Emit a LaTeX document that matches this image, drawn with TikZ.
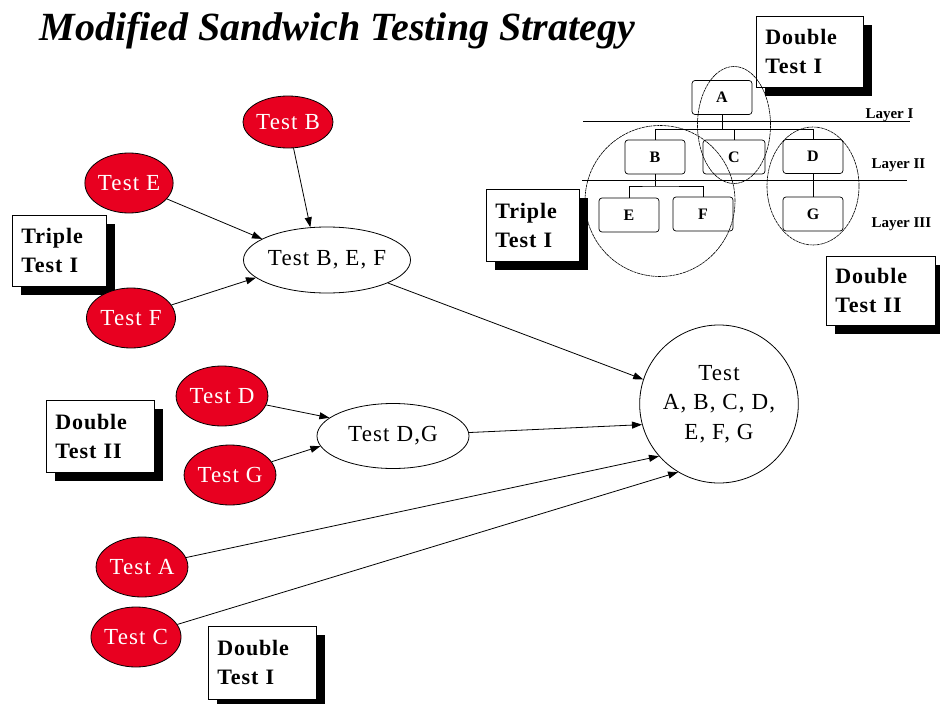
\documentclass[tikz,border=0pt]{standalone}
\usepackage{fontspec}
\setmainfont{Liberation Serif}
\newfontfamily\spacedfont[LetterSpace=5]{Liberation Serif}
\newfontfamily\boxfontfam[LetterSpace=4]{Liberation Serif}
\usetikzlibrary{shapes.geometric,shadows,arrows.meta,calc}
\definecolor{tred}{RGB}{232,0,32}
\begin{document}
\begin{tikzpicture}[x=1pt,y=-1pt,
  redn/.style={ellipse, draw=black, line width=0.8pt, fill=tred, text=white,
    font=\spacedfont\fontsize{23}{26}\selectfont, inner sep=0pt},
  whiten/.style={ellipse, draw=black, line width=0.8pt, fill=white,
    font=\spacedfont\fontsize{23}{26}\selectfont, inner sep=0pt},
  labbox/.style={rectangle, draw=black, line width=0.8pt, fill=white, align=left,
    font=\boxfontfam\bfseries\fontsize{22}{29}\selectfont, inner xsep=9pt, inner ysep=0pt, anchor=north west,
    drop shadow={shadow xshift=9pt, shadow yshift=-9pt, fill=black, opacity=1}},
  tbox/.style={rectangle, rounded corners=3pt, draw=black, line width=0.7pt, fill=white,
    font=\bfseries\fontsize{16}{18}\selectfont, minimum width=60pt, minimum height=34pt, inner sep=0pt},
  grp/.style={ellipse, draw=black, line width=0.6pt, dash pattern=on 3pt off 0.6pt, inner sep=0pt},
  layer/.style={font=\bfseries\fontsize{15}{17}\selectfont, anchor=base west},
  arr/.style={-{Triangle[length=10pt,width=7pt]}, line width=0.8pt},
  tree/.style={line width=0.7pt}
]
\useasboundingbox (0,0) rectangle (940,704);

% title
\node[font=\bfseries\itshape\fontsize{40}{43}\selectfont, anchor=base west] (title) at (36,40) {Modified Sandwich Testing Strategy};

% label boxes
\node[labbox, minimum width=94pt, minimum height=71pt, text width=76pt] (tripL) at (12,215) {Triple\\Test I};
\node[labbox, minimum width=108pt, minimum height=72pt, text width=90pt] (dblIIL) at (46,400) {Double\\Test II};
\node[labbox, minimum width=108pt, minimum height=73pt, text width=90pt] (dblIB) at (208,626) {Double\\Test I};
\node[labbox, minimum width=107pt, minimum height=71pt, text width=89pt] (dblIT) at (756,16) {Double\\Test I};
\node[labbox, minimum width=93pt, minimum height=72pt, text width=75pt] (tripR) at (486,189) {Triple\\Test I};
\node[labbox, minimum width=109pt, minimum height=69pt, text width=91pt] (dblIIR) at (826,256) {Double\\Test II};

% red nodes
\node[redn, minimum width=89pt, minimum height=52pt] (tB) at (288,122) {Test B};
\node[redn, minimum width=88pt, minimum height=60pt] (tE) at (129,183) {Test E};
\node[redn, minimum width=89pt, minimum height=60pt] (tF) at (131,318) {Test F};
\node[redn, minimum width=90pt, minimum height=60pt] (tD) at (222,396) {Test D};
\node[redn, minimum width=90pt, minimum height=60pt] (tG) at (230,475) {Test G};
\node[redn, minimum width=89pt, minimum height=60pt] (tA) at (142,567) {Test A};
\node[redn, minimum width=90pt, minimum height=60pt] (tC) at (136,637) {Test C};

% white nodes
\node[whiten, minimum width=154pt, minimum height=66pt] (bef) at (327,260) {Test B, E, F};
\node[whiten, minimum width=152pt, minimum height=65pt] (dg) at (393,436) {Test D,G};
\node[whiten, minimum width=154pt, minimum height=158pt, align=center,
  font=\spacedfont\fontsize{23}{29.5}\selectfont] (all) at (719,404) {Test\\A, B, C, D,\\E, F, G};

% arrows
\draw[arr] (tB) -- (bef.117);
\draw[arr] (tE) -- (bef.162);
\draw[arr] (tF) -- (bef.194);
\draw[arr] (tD) -- (dg.164);
\draw[arr] (tG) -- (dg.188);
\draw[arr] (bef) -- (all.162);
\draw[arr] (dg) -- (all.195);
\draw[arr] (tA) -- (all.221);
\draw[arr] (tC) -- (all.239);

% layer lines
\coordinate (l1a) at (583,121); \coordinate (l1b) at (910,121);
\coordinate (l2a) at (582,180); \coordinate (l2b) at (907,180);
\draw[line width=0.7pt] (l1a) -- (l1b);
\draw[line width=0.7pt] (l2a) -- (l2b);
\node[layer] (lay1) at (862,118) {Layer I};
\node[layer] (lay2) at (868,168) {Layer II};
\node[layer] (lay3) at (868,227) {Layer III};

% tree boxes
\node[tbox] (A) at (722,97.5) {A};
\node[tbox] (B) at (655,157) {B};
\node[tbox, minimum width=62pt] (C) at (734,157) {C};
\node[tbox] (D) at (813,156.5) {D};
\node[tbox] (E) at (629,215) {E};
\node[tbox] (F) at (703,214) {F};
\node[tbox] (G) at (813,214) {G};

% tree lines
\coordinate (hA) at (722,129.5);
\coordinate (hB) at (655,186);
\draw[tree] (A.south) -- (hA);
\draw[tree] (B.north) |- (hA) -| (D.north);
\draw[tree] (hA) -| (C.north);
\draw[tree] (B.south) -- (hB);
\draw[tree] (E.north) |- (hB) -| (F.north);
\draw[tree] (D.south) -- (G.north);

% group ellipses
\node[grp, minimum width=73pt, minimum height=117pt] (gAC) at (734,125) {};
\node[grp, minimum width=150pt, minimum height=151pt] (gBEF) at (660,201) {};
\node[grp, minimum width=92pt, minimum height=118pt] (gDG) at (813,186) {};
\end{tikzpicture}
\end{document}
